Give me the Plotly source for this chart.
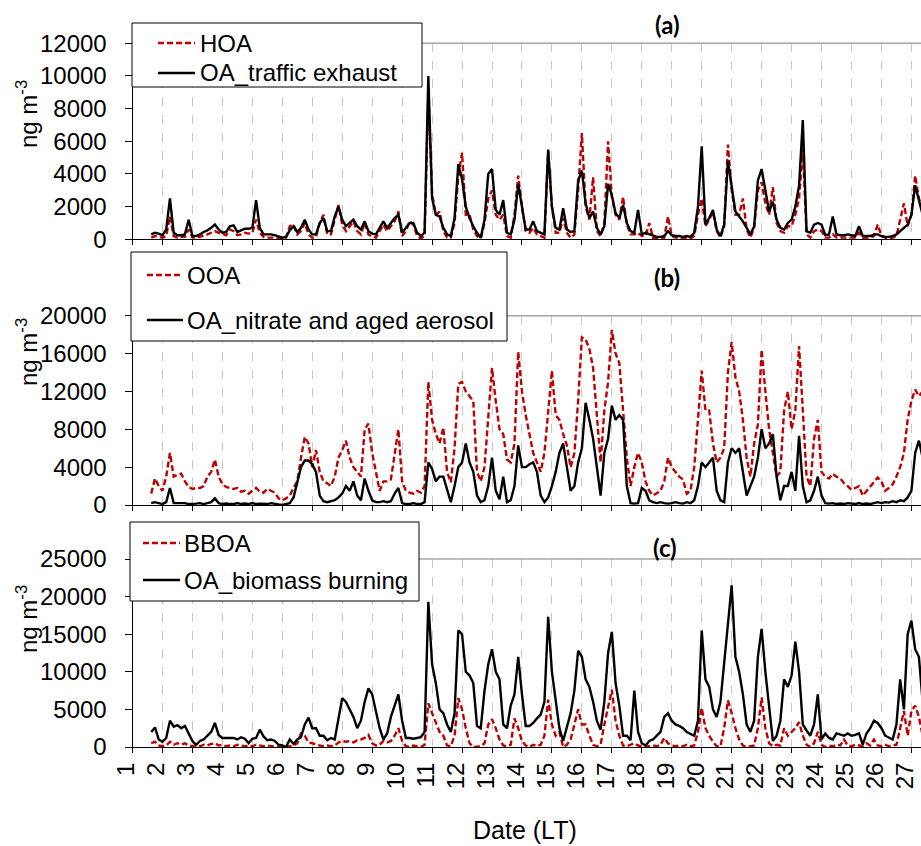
import numpy as np
import plotly.graph_objects as go

# ---------------- data (3-hourly, starting day 1 at 15:00 LT) ----------------
START_DAY = 1.625
STEP_HOURS = 3

hoa = [
    100, 200, 150,
    100, 200, 1400, 200, 100, 150, 150, 600,
    100, 100, 150, 250, 300, 400, 500, 400,
    300, 250, 600, 500, 250, 300, 400, 350,
    400, 1200, 400, 150, 100, 100, 100, 50,
    50, 100, 800, 900, 300, 500, 1000, 300,
    100, 150, 1000, 1500, 300, 300, 1200, 2100,
    900, 500, 800, 1100, 500, 300, 1000, 300,
    150, 100, 500, 900, 500, 800, 1100, 1700,
    200, 500, 1100, 900, 200, 50, 200, 8900,
    2800, 1500, 1700, 500, 100, 100, 1000, 3800,
    5300, 1500, 1500, 600, 200, 50, 1000, 2500,
    3000, 1500, 1200, 1500, 200, 100, 1500, 3900,
    2000, 500, 400, 700, 300, 200, 100, 5400,
    2000, 400, 400, 1300, 400, 100, 300, 3000,
    6500, 2000, 1200, 3800, 500, 200, 1000, 6000,
    2600, 1500, 1200, 2600, 900, 300, 300, 400,
    200, 200, 1000, 100, 50, 50, 100, 1400,
    200, 100, 100, 50, 100, 50, 200, 1500,
    2500, 800, 1200, 1700, 500, 100, 800, 5800,
    3000, 1500, 1500, 2500, 600, 100, 700, 3000,
    3500, 2200, 1500, 3200, 1000, 500, 400, 800,
    800, 1500, 2500, 5500, 300, 100, 500, 600,
    500, 100, 100, 300, 100, 100, 100, 100,
    100, 100, 400, 100, 50, 100, 200, 900,
    200, 100, 50, 100, 200, 1200, 2200, 800,
    1500, 3900, 2500, 1800,
]

oa_traffic = [
    300, 400, 350,
    250, 600, 2500, 400, 250, 250, 300, 1200,
    200, 200, 300, 450, 550, 700, 900, 600,
    400, 450, 800, 850, 450, 550, 650, 650,
    700, 2400, 700, 300, 300, 300, 250, 150,
    100, 150, 550, 800, 450, 700, 1200, 600,
    300, 300, 1000, 1300, 500, 500, 1400, 2000,
    1200, 800, 1000, 1200, 800, 600, 1100, 500,
    350, 300, 700, 1100, 700, 1000, 1300, 1500,
    400, 700, 1000, 1000, 400, 200, 400, 10000,
    2500, 1500, 1400, 700, 300, 200, 1300, 4600,
    3700, 2000, 1300, 800, 400, 100, 1200, 4000,
    4300, 1800, 1500, 2400, 400, 300, 1200, 3400,
    2000, 600, 600, 1100, 500, 400, 300, 5500,
    2000, 700, 600, 1900, 600, 450, 500, 3600,
    4200, 2200, 1300, 1700, 700, 300, 800, 3400,
    2700, 1600, 1300, 2100, 1000, 500, 400, 1800,
    300, 400, 300, 200, 150, 150, 200, 500,
    250, 200, 200, 150, 200, 150, 400, 2000,
    5700, 900, 1300, 1800, 600, 200, 900, 4800,
    3300, 1700, 1400, 1100, 700, 300, 800, 3600,
    4300, 3000, 1700, 2300, 1200, 700, 600, 1000,
    1200, 2000, 3300, 7300, 500, 400, 900, 1000,
    900, 250, 300, 1400, 300, 250, 250, 300,
    250, 200, 800, 200, 200, 200, 300, 300,
    200, 150, 150, 200, 300, 500, 700, 900,
    1500, 3300, 2400, 1500,
]

ooa = [
    1200, 2800, 2000,
    1500, 3000, 5500, 3000, 3200, 3300, 2500, 1900,
    1700, 1800, 1800, 2000, 3000, 3500, 4800, 3000,
    2200, 1900, 1800, 1700, 1800, 1400, 1500, 1200,
    1500, 1800, 1400, 1300, 1700, 1500, 1300, 700,
    500, 700, 1000, 1800, 2500, 5000, 7200, 6500,
    4000, 5800, 3500, 2500, 2300, 2000, 3000, 5000,
    5800, 6800, 5000, 4000, 3500, 3000, 8000, 8600,
    5500, 3500, 1500, 2500, 2500, 2700, 5500, 8000,
    2500, 1500, 1300, 1200, 1500, 1300, 2000, 13000,
    9000, 7500, 6500, 8200, 3500, 2400, 6000, 12800,
    13000, 12000, 11500, 11000, 3500, 2500, 4000, 9500,
    14500, 11000, 8000, 7500, 4800, 4500, 6500, 16200,
    12000, 9500, 7500, 5500, 4500, 3500, 5500, 10000,
    14200, 9500, 9000, 7500, 6300, 4000, 5500, 11000,
    17700, 17500, 16500, 14500, 9000, 4500, 10000, 13000,
    18500, 16000, 15000, 10000, 5000, 2000, 4000, 5500,
    4500, 2500, 1500, 1000, 1300, 1500, 2500, 5000,
    4000, 3500, 3000, 2700, 1200, 1500, 4000, 9000,
    14200, 10000, 10000, 6500, 4500, 5000, 6000, 14000,
    17200, 13500, 12000, 9000, 5000, 3000, 6500, 8500,
    16400, 12000, 8000, 5500, 3000, 3500, 10000, 12000,
    8000, 10000, 16800, 10000, 3000, 2000, 7000, 9000,
    3500, 3000, 2800, 3300, 3000, 2800, 2300, 2000,
    1600, 1800, 2000, 1000, 1500, 2000, 2500, 2900,
    2500, 1500, 1800, 2200, 3000, 4000, 5500, 9000,
    11000, 12200, 11500, 12000,
]

oa_nitrate = [
    200, 300, 200,
    100, 300, 1800, 200, 200, 150, 200, 100,
    100, 150, 200, 100, 200, 300, 700, 200,
    100, 150, 100, 100, 200, 100, 150, 100,
    200, 100, 150, 100, 100, 200, 100, 50,
    0, 100, 200, 800, 2500, 4000, 4700, 4700,
    4300, 3500, 1000, 400, 300, 400, 500, 800,
    1200, 2000, 1500, 2500, 1000, 500, 2800, 1500,
    500, 300, 300, 400, 300, 400, 1200, 1800,
    200, 100, 100, 200, 100, 100, 300, 4500,
    3800, 2500, 3000, 3000, 1500, 300, 2000, 4000,
    4500, 6500, 4500, 3500, 1000, 300, 500, 2000,
    5000, 1500, 600, 3000, 300, 500, 2000, 6300,
    4000, 4000, 4300, 4500, 3500, 1000, 300, 800,
    2000, 3500, 5500, 6500, 4000, 1500, 2000, 4500,
    6000, 10800, 9000, 7000, 4000, 1000, 5500, 7000,
    10500, 9000, 9500, 9000, 2000, 200, 150, 200,
    1800, 1500, 500, 300, 200, 300, 200, 150,
    200, 300, 200, 150, 300, 200, 500, 2000,
    4500, 4000, 4500, 5000, 1500, 500, 300, 4500,
    6000, 5500, 6000, 3500, 1000, 2000, 3000, 5000,
    8000, 6000, 6500, 7500, 3000, 500, 2000, 2000,
    3500, 1500, 7300, 2000, 300, 500, 1500, 3000,
    1000, 200, 150, 200, 100, 150, 100, 200,
    150, 100, 200, 100, 150, 100, 200, 300,
    200, 300, 250, 400, 300, 500, 400, 800,
    1500, 5500, 6800, 5000,
]

bboa = [
    500, 700, 200,
    100, 200, 700, 300, 500, 300, 500, 200,
    100, 200, 100, 300, 200, 400, 500, 200,
    300, 100, 200, 100, 300, 200, 100, 200,
    100, 300, 200, 100, 200, 100, 100, 0,
    100, 0, 100, 200, 500, 1800, 1500, 600,
    500, 300, 200, 100, 200, 100, 200, 600,
    800, 700, 800, 600, 900, 1000, 1200, 1600,
    500, 200, 300, 800, 600, 800, 1500, 2500,
    800, 100, 0, 200, 100, 0, 300, 5800,
    4500, 3200, 2000, 1500, 200, 100, 1500, 6500,
    5000, 2500, 500, 0, 0, 100, 500, 3000,
    3700, 2500, 1000, 200, 100, 300, 3800, 2500,
    800, 200, 0, 300, 100, 300, 1500, 6300,
    3000, 1500, 2000, 0, 300, 1000, 3000, 5000,
    3000, 3000, 1500, 300, 100, 300, 3000, 5500,
    7600, 3500, 1500, 200, 100, 300, 500, 200,
    100, 0, 100, 200, 100, 300, 1200, 500,
    200, 100, 200, 100, 300, 100, 200, 2000,
    5200, 2500, 1500, 700, 100, 100, 2500, 6200,
    4500, 2500, 1000, 200, 0, 100, 200, 2500,
    6600, 2500, 500, 100, 300, 200, 2500, 1500,
    2000, 2500, 3300, 1500, 300, 0, 500, 2000,
    300, 0, 200, 100, 300, 200, 1000, 200,
    100, 300, 200, 100, 500, 200, 1000, 200,
    100, 300, 100, 200, 300, 2500, 4800, 1500,
    4800, 5500, 4000, 1500,
]

oa_biomass = [
    2000, 2600, 1000,
    700, 1200, 3500, 2700, 2900, 2500, 2800, 1800,
    800, 300, 800, 1000, 1500, 2000, 3200, 1600,
    1200, 1200, 1100, 1200, 1000, 1300, 1100, 500,
    1100, 1200, 2300, 1400, 900, 1000, 800, 300,
    200, 0, 1000, 400, 1000, 1300, 3000, 3900,
    2500, 2500, 1500, 1500, 900, 1200, 1000, 3500,
    6500, 6000, 5000, 4000, 2500, 3500, 6000, 7800,
    7000, 4500, 2500, 1000, 1800, 4000, 5500, 7000,
    3500, 1200, 1200, 1100, 1200, 1300, 2000, 19300,
    11000, 8500, 5000, 4500, 3000, 2000, 4500, 15500,
    15000, 10000, 9500, 8500, 2800, 2500, 7500, 11000,
    13000, 10000, 9000, 3000, 2500, 5500, 7000, 12000,
    7000, 2800, 2800, 3200, 3800, 4300, 6000, 17300,
    10000, 6500, 2500, 800, 2800, 4500, 7500, 12800,
    12000, 9000, 8000, 6000, 3500, 2300, 6000, 12500,
    15300, 8500, 5500, 1500, 1500, 900, 7500, 2000,
    500, 200, 800, 1000, 1500, 2000, 4000, 4500,
    3500, 3000, 2800, 2500, 2000, 1800, 1500, 3500,
    15500, 9000, 8000, 5000, 4000, 6000, 11000, 15800,
    21500, 12000, 10000, 7000, 3000, 2000, 3500, 12000,
    15700, 10000, 5000, 800, 1500, 3500, 9000, 8000,
    9500, 14000, 10000, 3000, 2200, 1500, 3000, 7000,
    1000, 1800, 1200, 1000, 1800, 1600, 1500, 1800,
    1500, 1600, 1800, 300, 1800, 2500, 3500, 3200,
    2500, 1500, 1200, 1000, 3000, 9000, 5000, 15000,
    16800, 13000, 12000, 6000,
]

day_ticks = list(range(1, 28))
y_ranges = [12000, 20000, 25000]
y_dticks = [2000, 4000, 5000]
panel_labels = ["(a)", "(b)", "(c)"]


def days_of(vals):
    return START_DAY + np.arange(len(vals)) * STEP_HOURS / 24.0


# ---------------- layout helpers ----------------
W, H = 921, 846
FONT = "Liberation Sans, Arial, sans-serif"
RED = "#c00000"
RED_DASH = "6px,3px"
LW = 2.4


def px(x):
    return x / W


def py(y):
    return 1 - y / H


fig = go.Figure()

series = [
    (hoa, "HOA", RED, RED_DASH, "x", "y"),
    (oa_traffic, "OA_traffic exhaust", "black", "solid", "x", "y"),
    (ooa, "OOA", RED, RED_DASH, "x2", "y2"),
    (oa_nitrate, "OA_nitrate and aged aerosol", "black", "solid", "x2", "y2"),
    (bboa, "BBOA", RED, RED_DASH, "x3", "y3"),
    (oa_biomass, "OA_biomass burning", "black", "solid", "x3", "y3"),
]
for vals, name, col, dash, xa, ya in series:
    fig.add_trace(go.Scatter(
        x=days_of(vals), y=vals, mode="lines", name=name,
        line=dict(color=col, width=LW, dash=dash),
        xaxis=xa, yaxis=ya, showlegend=False, hoverinfo="skip"))

# plot areas in pixels (top, bottom)
panels_px = [(43.3, 239.3), (315.7, 505.0), (559.0, 747.0)]
x_left = 132.5

axis_common = dict(
    range=[1, 27.32], tickmode="array", tickvals=day_ticks,
    ticktext=[str(d) for d in day_ticks],
    showline=True, linecolor="black", linewidth=1,
    ticks="outside", ticklen=5, tickcolor="black",
    showgrid=True, gridcolor="#c8c8c8", griddash="dash", gridwidth=1,
    zeroline=False, tickfont=dict(family=FONT, size=24, color="black"),
    domain=[px(x_left), 1.0], automargin=False, ticklabeloverflow="allow",
)

for i, (top, bot) in enumerate(panels_px):
    sfx = "" if i == 0 else str(i + 1)
    xa = dict(axis_common)
    xa["anchor"] = "y" + sfx
    if i < 2:
        xa["showticklabels"] = False
    else:
        xa["tickangle"] = -90
        xa["ticklabelshift"] = -6
    fig.layout["xaxis" + sfx] = xa
    fig.layout["yaxis" + sfx] = dict(
        domain=[py(bot), py(top)], range=[0, y_ranges[i]], dtick=y_dticks[i],
        tick0=0, tickformat="d", anchor="x" + sfx, showline=True, linecolor="black",
        linewidth=1, ticks="outside", ticklen=7, tickcolor="black",
        showgrid=False, zeroline=False, ticklabelstandoff=13, automargin=False,
        tickfont=dict(family=FONT, size=24, color="black"))

shapes = []
annotations = []
# grey top border of each plot area
for i in range(3):
    sfx = "" if i == 0 else str(i + 1)
    shapes.append(dict(type="line", xref="x" + sfx + " domain", yref="y" + sfx + " domain",
                       x0=0, x1=1, y0=1, y1=1, line=dict(color="#a6a6a6", width=1.5),
                       layer="above"))

# legends (box, line samples, labels) drawn in figure pixels
legend_boxes = [(132, 23, 422, 87), (131, 252, 507, 341), (130, 522, 419, 601)]
legend_rows = [(158, 195, 198, (43, 73)), (147, 183, 185, (275, 320)), (143, 180, 182, (543, 580))]
for p, (x0, y0, x1, y1) in enumerate(legend_boxes):
    shapes.append(dict(type="rect", xref="paper", yref="paper",
                       x0=px(x0), x1=px(x1), y0=py(y1), y1=py(y0),
                       fillcolor="white", line=dict(color="black", width=1),
                       layer="above"))
    s0, s1, tx, rows = legend_rows[p]
    for k in range(2):
        vals, name, col, dash, _, _ = series[2 * p + k]
        ry = rows[k]
        shapes.append(dict(type="line", xref="paper", yref="paper",
                           x0=px(s0), x1=px(s1), y0=py(ry), y1=py(ry),
                           line=dict(color=col, width=LW, dash=dash), layer="above"))
        annotations.append(dict(text=name, x=px(tx), y=py(ry), xref="paper", yref="paper",
                                showarrow=False, xanchor="left", yanchor="middle",
                                font=dict(family=FONT, size=24, color="black")))

title_pos = [(667, 25), (667, 277), (665, 547)]
for lab, (tx, ty) in zip(panel_labels, title_pos):
    annotations.append(dict(text="<b>" + lab + "</b>", x=px(tx), y=py(ty),
                            xref="paper", yref="paper", showarrow=False,
                            xanchor="center", yanchor="middle",
                            font=dict(family="Lato, Open Sans, sans-serif", size=24, color="black")))
ytitle_pos = [114, 352, 619]
for ty in ytitle_pos:
    annotations.append(dict(text="ng m<sup>-3</sup>", x=px(27), y=py(ty),
                            xref="paper", yref="paper", showarrow=False,
                            textangle=-90, xanchor="center", yanchor="middle",
                            font=dict(family=FONT, size=24, color="black")))
annotations.append(dict(text="Date (LT)", x=px(525), y=py(830), xref="paper", yref="paper",
                        showarrow=False, xanchor="center", yanchor="middle",
                        font=dict(family=FONT, size=25, color="black")))

fig.update_layout(
    width=W, height=H, autosize=False,
    margin=dict(l=0, r=0, t=0, b=0, pad=0),
    paper_bgcolor="white", plot_bgcolor="white",
    showlegend=False,
    shapes=shapes, annotations=annotations,
)

fig.write_html("out.html")
